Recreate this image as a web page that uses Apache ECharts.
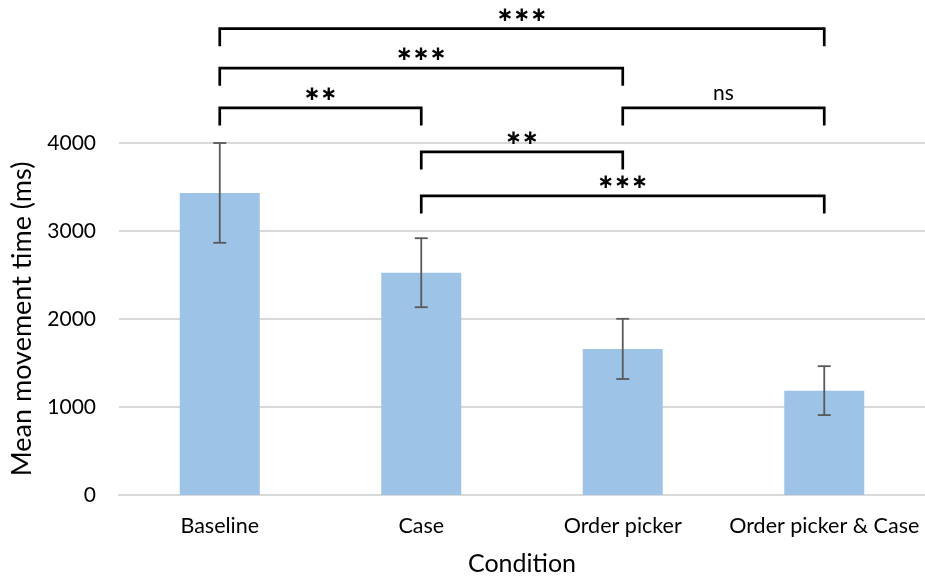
<!DOCTYPE html>
<html>
<head>
<meta charset="utf-8">
<script src="https://cdn.jsdelivr.net/npm/echarts@6/dist/echarts.min.js"></script>
<style>html,body{margin:0;padding:0;background:#fff;}#main{width:925px;height:581px;}</style>
</head>
<body>
<div id="main"></div>
<script>
const categories = ['Baseline', 'Case', 'Order picker', 'Order picker & Case'];
const meanTimes = [3433, 2526, 1660, 1186];
const errorSizes = [567, 392, 342, 278];
const yTicks = [0, 1000, 2000, 3000, 4000];

const bracketFrom = [0, 0, 0, 2, 1, 1];
const bracketTo = [3, 2, 1, 3, 2, 3];
const bracketLevel = [5300, 4850, 4400, 4400, 3900, 3400];
const bracketLabel = ['***', '***', '**', 'ns', '**', '***'];
const bracketLeg = 200;

const FONT = 'Lato';
const errorData = categories.map((c, i) => [i, meanTimes[i] - errorSizes[i], meanTimes[i] + errorSizes[i]]);
const bracketData = bracketFrom.map((f, i) => [f, bracketTo[i], bracketLevel[i]]);

const chart = echarts.init(document.getElementById('main'), null, {renderer: 'canvas'});
chart.setOption({
  animation: false,
  backgroundColor: '#ffffff',
  grid: {left: 119, right: 0, top: 143, bottom: 85.5, containLabel: false},
  xAxis: {
    type: 'category',
    data: categories,
    name: 'Condition',
    nameLocation: 'middle',
    nameGap: 56,
    nameTextStyle: {fontFamily: FONT, fontSize: 25, color: '#000'},
    axisLine: {show: true, lineStyle: {color: '#d9d9d9', width: 2}},
    axisTick: {show: false},
    axisLabel: {interval: 0, fontFamily: FONT, fontSize: 21.5, color: '#000', margin: 20}
  },
  yAxis: {
    type: 'value',
    min: yTicks[0],
    max: yTicks[yTicks.length - 1],
    interval: 1000,
    name: 'Mean movement time (ms)',
    nameLocation: 'middle',
    nameGap: 83,
    nameTextStyle: {fontFamily: FONT, fontSize: 27, color: '#000'},
    axisLine: {show: false},
    axisTick: {show: false},
    axisLabel: {fontFamily: FONT, fontSize: 21, color: '#000', margin: 23, formatter: v => String(v)},
    splitLine: {show: true, lineStyle: {color: '#d9d9d9', width: 2}}
  },
  series: [
    {
      type: 'bar',
      data: meanTimes,
      barWidth: 80,
      itemStyle: {color: '#9dc3e6'},
      z: 2
    },
    {
      type: 'custom',
      data: errorData,
      encode: {x: 0, y: [1, 2]},
      z: 3,
      clip: false,
      renderItem: function (params, api) {
        const x = api.value(0);
        const lo = api.coord([x, api.value(1)]);
        const hi = api.coord([x, api.value(2)]);
        const hw = 6.5;
        const st = {stroke: '#595959', lineWidth: 1.8};
        return {type: 'group', children: [
          {type: 'line', shape: {x1: lo[0], y1: lo[1], x2: hi[0], y2: hi[1]}, style: st},
          {type: 'line', shape: {x1: lo[0] - hw, y1: lo[1], x2: lo[0] + hw, y2: lo[1]}, style: st},
          {type: 'line', shape: {x1: hi[0] - hw, y1: hi[1], x2: hi[0] + hw, y2: hi[1]}, style: st}
        ]};
      }
    },
    {
      type: 'custom',
      data: bracketData,
      encode: {x: [0, 1], y: 2},
      z: 4,
      clip: false,
      renderItem: function (params, api) {
        const a = api.value(0), b = api.value(1), lv = api.value(2);
        const p1 = api.coord([a, lv]);
        const p2 = api.coord([b, lv]);
        const p1b = api.coord([a, lv - bracketLeg]);
        const label = bracketLabel[params.dataIndex];
        const mid = (p1[0] + p2[0]) / 2;
        const isStar = label.indexOf('*') >= 0;
        return {type: 'group', children: [
          {type: 'polyline', shape: {points: [[p1[0], p1b[1]], [p1[0], p1[1]], [p2[0], p2[1]], [p2[0], p1b[1]]]},
           style: {stroke: '#000', lineWidth: 2.7, fill: null, lineJoin: 'miter'}},
          {type: 'text', x: mid, y: isStar ? p1[1] - 13 : p1[1] - 4,
           style: isStar ? {text: label.replace(/\*/g, '\u2217'), fontFamily: 'DejaVu Sans', fontWeight: 'bold', fontSize: 20,
                    fill: '#000', align: 'center', verticalAlign: 'middle'}
                 : {text: label, fontFamily: FONT, fontSize: 21, fill: '#000', align: 'center', verticalAlign: 'bottom'}}
        ]};
      }
    }
  ]
});
</script>
</body>
</html>
